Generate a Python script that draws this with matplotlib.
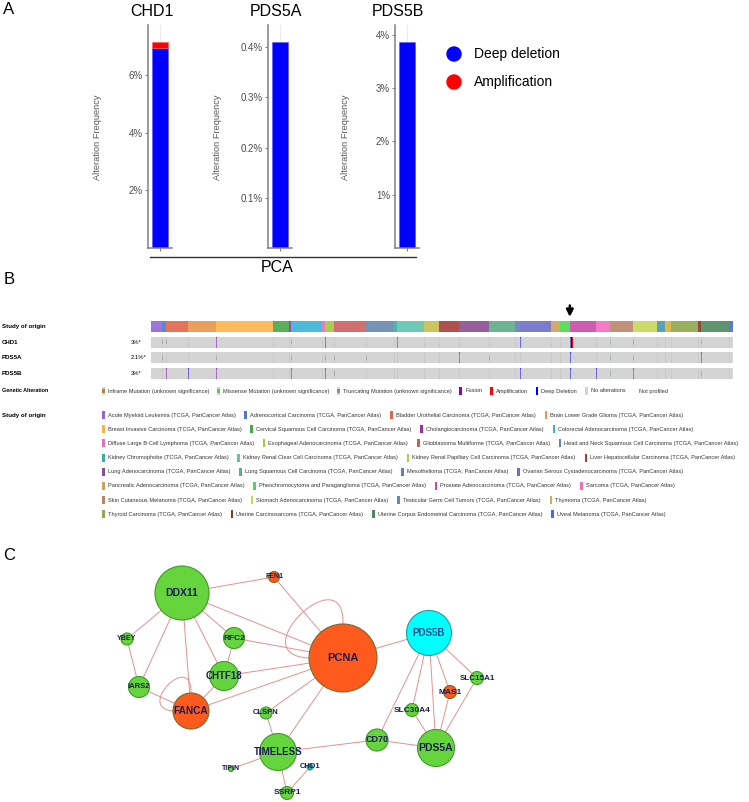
import matplotlib
matplotlib.use('Agg')
import matplotlib.pyplot as plt
from matplotlib.patches import Circle, Rectangle, PathPatch
from matplotlib.path import Path
import numpy as np

plt.rcParams['font.family'] = ['Liberation Sans', 'DejaVu Sans']

# ---------------- panel A data ----------------
bar_genes = ['CHD1', 'PDS5A', 'PDS5B']
deep_del_pct = [6.97, 0.411, 3.87]
amp_pct = [0.21, 0.0, 0.0]
tick_step = [2, 0.1, 1]
cohort = 'PCA'
legend_a = ['Deep deletion', 'Amplification']
legend_a_colors = ['#0000FF', '#FF0000']

# ---------------- panel B data ----------------
study_codes = ['LAML', 'ACC', 'BLCA', 'LGG', 'BRCA', 'CESC', 'CHOL', 'COADREAD',
               'DLBC', 'ESCA', 'GBM', 'HNSC', 'KICH', 'KIRC', 'KIRP', 'LIHC',
               'LUAD', 'LUSC', 'MESO', 'OV', 'PAAD', 'PCPG', 'PRAD', 'SARC',
               'SKCM', 'STAD', 'TGCT', 'THYM', 'THCA', 'UCS', 'UCEC', 'UVM']
study_names = ['Acute Myeloid Leukemia', 'Adrenocortical Carcinoma',
               'Bladder Urothelial Carcinoma', 'Brain Lower Grade Glioma',
               'Breast Invasive Carcinoma', 'Cervical Squamous Cell Carcinoma',
               'Cholangiocarcinoma', 'Colorectal Adenocarcinoma',
               'Diffuse Large B-Cell Lymphoma', 'Esophageal Adenocarcinoma',
               'Glioblastoma Multiforme', 'Head and Neck Squamous Cell Carcinoma',
               'Kidney Chromophobe', 'Kidney Renal Clear Cell Carcinoma',
               'Kidney Renal Papillary Cell Carcinoma', 'Liver Hepatocellular Carcinoma',
               'Lung Adenocarcinoma', 'Lung Squamous Cell Carcinoma', 'Mesothelioma',
               'Ovarian Serous Cystadenocarcinoma', 'Pancreatic Adenocarcinoma',
               'Pheochromocytoma and Paraganglioma', 'Prostate Adenocarcinoma', 'Sarcoma',
               'Skin Cutaneous Melanoma', 'Stomach Adenocarcinoma',
               'Testicular Germ Cell Tumors', 'Thymoma', 'Thyroid Carcinoma',
               'Uterine Carcinosarcoma', 'Uterine Corpus Endometrial Carcinoma',
               'Uveal Melanoma']
study_samples = [200, 92, 411, 514, 1084, 297, 36, 594, 48, 182, 592, 523, 66, 512,
                 283, 372, 566, 487, 87, 585, 184, 179, 494, 255, 448, 440, 149, 123,
                 500, 57, 529, 80]
study_colors = ['#9366D6', '#4A78D0', '#E2654A', '#E8964A', '#FFB347', '#48A648',
                '#9A30A8', '#38B2DA', '#E870B0', '#A2C63E', '#CC5E5E', '#6587AE',
                '#3AAFA0', '#5EC4B2', '#C6C04A', '#A83E3E', '#8C4E8E', '#5EAC88',
                '#6480B8', '#6E6EC8', '#D29E5E', '#48DC48', '#C84CA6', '#F46CC2',
                '#B8846C', '#C6D856', '#4A96AE', '#D6B23E', '#8EA84E', '#8A3A1A',
                '#4E8A5E', '#4A6ED0']
onco_genes = ['CHD1', 'PDS5A', 'PDS5B']
onco_freq = ['3%*', '2.1%*', '3%*']
chd1_alts = [('ACC', 'trunc', 1), ('BLCA', 'trunc', 2), ('BRCA', 'fusion', 2),
             ('COADREAD', 'missense', 4), ('ESCA', 'fusion', 1), ('KIRC', 'amp', 2),
             ('OV', 'del', 3), ('PRAD', 'del', 34), ('PRAD', 'amp', 1),
             ('SKCM', 'missense', 3), ('STAD', 'trunc', 3), ('UCEC', 'missense', 6)]
pds5a_alts = [('ACC', 'trunc', 1), ('BRCA', 'trunc', 2), ('COADREAD', 'missense', 3),
              ('ESCA', 'trunc', 1), ('GBM', 'trunc', 1), ('HNSC', 'trunc', 2),
              ('LUAD', 'amp', 2), ('LUSC', 'trunc', 2), ('PRAD', 'del', 2),
              ('SKCM', 'missense', 3), ('STAD', 'trunc', 2), ('UCEC', 'missense', 5),
              ('UCEC', 'amp', 2)]
pds5b_alts = [('BLCA', 'fusion', 2), ('LGG', 'del', 1), ('BRCA', 'fusion', 3),
              ('COADREAD', 'amp', 3), ('ESCA', 'amp', 2), ('GBM', 'trunc', 1),
              ('OV', 'del', 3), ('PRAD', 'del', 19), ('SARC', 'del', 4),
              ('SKCM', 'missense', 3), ('STAD', 'amp', 3), ('UCEC', 'missense', 6)]
arrow_study = 'PRAD'
alt_keys = ['inframe', 'missense', 'trunc', 'fusion', 'amp', 'del', 'none', 'np']
alt_labels = ['Inframe Mutation (unknown significance)',
              'Missense Mutation (unknown significance)',
              'Truncating Mutation (unknown significance)', 'Fusion', 'Amplification',
              'Deep Deletion', 'No alterations', 'Not profiled']
alt_colors = ['#A68A3C', '#66BF55', '#8A8A8A', '#8B00C9', '#FF0000', '#0000FF',
              '#D4D4D4', '#E6E6E6']

# ---------------- panel C data ----------------
node_names = ['DDX11', 'FEN1', 'PCNA', 'YBEY', 'RFC2', 'IARS2', 'CHTF18', 'FANCA',
              'CLSPN', 'TIMELESS', 'TIPIN', 'CHD1', 'SSRP1', 'CD70', 'PDS5B',
              'SLC15A1', 'MAS1', 'SLC30A4', 'PDS5A']
node_x = [182, 274, 343, 127, 234, 139, 224, 191, 266, 278, 231, 310, 287, 377, 429,
          477, 450, 412, 436]
node_y = [593, 577, 658, 639, 638, 687, 676, 711, 713, 752, 769, 767, 793, 740, 633,
          678, 692, 710, 748]
node_r = [27, 5.5, 34, 6, 10.5, 10.5, 14.5, 18, 6, 18.5, 2.5, 3, 6.5, 11, 22.5, 6.5,
          6.5, 6.5, 18.5]
node_kind = ['g', 'o', 'o', 'g', 'g', 'g', 'g', 'o', 'g', 'g', 'g', 'c', 'g', 'g', 'c',
             'g', 'o', 'g', 'g']
node_fs = [7.5, 5, 8, 5, 6, 5.5, 7, 7.3, 5.5, 7, 5, 5.5, 6, 6.5, 7, 5.8, 6, 6, 7.5]
edges = [('DDX11', 'FEN1'), ('DDX11', 'PCNA'), ('DDX11', 'YBEY'), ('DDX11', 'IARS2'),
         ('DDX11', 'FANCA'), ('DDX11', 'CHTF18'), ('DDX11', 'RFC2'), ('YBEY', 'IARS2'),
         ('IARS2', 'FANCA'), ('RFC2', 'PCNA'), ('RFC2', 'CHTF18'), ('CHTF18', 'PCNA'),
         ('CHTF18', 'FANCA'), ('FANCA', 'PCNA'), ('FEN1', 'PCNA'), ('PCNA', 'CLSPN'),
         ('PCNA', 'TIMELESS'), ('PCNA', 'PDS5B'), ('CLSPN', 'TIMELESS'),
         ('TIMELESS', 'TIPIN'), ('TIMELESS', 'SSRP1'), ('TIMELESS', 'CD70'),
         ('SSRP1', 'CHD1'), ('CD70', 'PDS5A'), ('CD70', 'PDS5B'), ('PDS5B', 'SLC30A4'),
         ('PDS5B', 'PDS5A'), ('PDS5B', 'MAS1'), ('PDS5B', 'SLC15A1'),
         ('SLC30A4', 'PDS5A'), ('MAS1', 'PDS5A'), ('SLC15A1', 'PDS5A')]
self_loops = ['PCNA', 'FANCA']

W, H = 749, 802
fig = plt.figure(figsize=(W / 100, H / 100), dpi=100)
ax0 = fig.add_axes([0, 0, 1, 1])
ax0.set_xlim(0, W)
ax0.set_ylim(H, 0)
ax0.axis('off')
renderer = fig.canvas.get_renderer()


def fig_rect(x0, y0, x1, y1):
    return [x0 / W, 1 - y1 / H, (x1 - x0) / W, (y1 - y0) / H]


for lab, yy in zip(['A', 'B', 'C'], [10, 280, 556]):
    ax0.text(9, yy, lab, fontsize=12, ha='center', va='center')

# ---------------- panel A ----------------
axes_px = [(148, 172), (268, 292), (395, 419)]
title_x = [152, 276, 398]
ylab_x = [98, 218, 345]
for i, g in enumerate(bar_genes):
    ax = fig.add_axes(fig_rect(axes_px[i][0], 25, axes_px[i][1], 248))
    ax.set_facecolor('none')
    ax.bar(0, deep_del_pct[i], width=1, color='#0000FF', edgecolor='#5A5AFF', linewidth=0.4)
    if amp_pct[i] > 0:
        ax.bar(0, amp_pct[i], bottom=deep_del_pct[i], width=1, color='#FF0000',
               edgecolor='#FF5A5A', linewidth=0.4)
    top = (deep_del_pct[i] + amp_pct[i]) * 1.08
    ax.set_ylim(0, top)
    ax.set_xlim(-0.75, 0.75)
    ticks = np.arange(tick_step[i], top, tick_step[i])
    ax.set_yticks(ticks)
    ax.set_yticklabels([f'{t:g}%' for t in ticks])
    ax.set_xticks([0])
    ax.set_xticklabels([''])
    for s in ['top', 'right']:
        ax.spines[s].set_visible(False)
    for s in ['left', 'bottom']:
        ax.spines[s].set_color('#808080')
        ax.spines[s].set_linewidth(1.1)
    ax.tick_params(colors='#808080', length=2.5, width=0.8, labelsize=7,
                   labelcolor='#4D4D4D', pad=1)
    ax.grid(axis='x', color='#EBEBEB', linewidth=0.8)
    ax.set_axisbelow(True)
    ax0.text(title_x[i], 11, g, fontsize=11.5, ha='center', va='center')
    ax0.text(ylab_x[i], 137, 'Alteration Frequency', rotation=90, fontsize=6.7,
             color='#5A5A5A', ha='center', va='center')

ax0.plot([150, 416], [257, 257], color='#333333', lw=1)
ax0.text(277, 268, cohort, fontsize=11.5, ha='center', va='center')
for k, (lab, col) in enumerate(zip(legend_a, legend_a_colors)):
    ax0.add_patch(Circle((454, 54 + 28 * k), 7, color=col))
    ax0.text(474, 54 + 28 * k, lab, fontsize=10, ha='left', va='center')

# ---------------- panel B ----------------
total = sum(study_samples)
starts = np.concatenate([[0], np.cumsum(study_samples)[:-1]])
start_of = dict(zip(study_codes, starts))
color_of = dict(zip(alt_keys, alt_colors))

row_top, pitch, row_h = 320.7, 15.8, 11
axb_top, axb_bot = 300, 381
axb = fig.add_axes(fig_rect(151, axb_top, 733, axb_bot))
axb.set_xlim(0, total)
axb.set_ylim(axb_bot, axb_top)
axb.axis('off')

axb.broken_barh(list(zip(starts, study_samples)), (row_top, row_h),
                facecolors=study_colors, alpha=0.9)
min_w = total / 582 * 1.0
for gi, alts in enumerate([chd1_alts, pds5a_alts, pds5b_alts]):
    y0 = row_top + pitch * (gi + 1)
    axb.broken_barh([(0, total)], (y0, row_h), facecolors='#D4D4D4')
    axb.vlines(starts[1:], y0, y0 + row_h, color='#C2C2C2', lw=0.4)
    offset = {}
    for code, kind, n in alts:
        x = start_of[code] + offset.get(code, 0)
        offset[code] = offset.get(code, 0) + n
        if kind in ('amp', 'del', 'fusion'):
            yb, hh = y0, row_h
        else:
            yb, hh = y0 + row_h * 0.3, row_h * 0.4
        axb.bar(x, hh, width=max(n, min_w), bottom=yb, align='edge',
                color=color_of[kind], linewidth=0)

ax_arrow_x = start_of[arrow_study]
axb.annotate('', xy=(ax_arrow_x, row_top - 1.0), xytext=(ax_arrow_x, row_top - 18),
             arrowprops=dict(arrowstyle='-|>', color='black', lw=1.8, mutation_scale=10))

row_labels = ['Study of origin'] + onco_genes
for k, lab in enumerate(row_labels):
    yc = row_top + pitch * k + row_h / 2
    ax0.text(2, yc, lab, fontsize=4.4, fontweight='bold', ha='left', va='center')
    if k > 0:
        ax0.text(131, yc, onco_freq[k - 1], fontsize=4.2, ha='left', va='center')

mw, mh = 2.6, 8


def flow(items, x0, y, fs, gap):
    x = x0
    for lab, col, kind in items:
        if kind in ('inframe', 'missense', 'trunc'):
            ax0.add_patch(Rectangle((x, y - mh / 2), mw, mh, color='#D4D4D4', lw=0))
            ax0.add_patch(Rectangle((x, y - mh * 0.25), mw, mh * 0.5, color=col, lw=0))
        elif kind == 'np':
            ax0.add_patch(Rectangle((x, y - 0.4), mw, 0.8, color='#BBBBBB', lw=0))
        else:
            ax0.add_patch(Rectangle((x, y - mh / 2), mw, mh, color=col, lw=0))
        t = ax0.text(x + mw + 3, y, lab, fontsize=fs, color='#333333', ha='left',
                     va='center')
        w = t.get_window_extent(renderer=renderer).width
        x = x + mw + 3 + w + gap


ax0.text(2, 391, 'Genetic Alteration', fontsize=3.9, fontweight='bold', ha='left',
         va='center')
flow(list(zip(alt_labels, alt_colors, alt_keys)), 102, 391, 4.05, 8)

ax0.text(2, 415, 'Study of origin', fontsize=4.4, fontweight='bold', ha='left',
         va='center')
for r in range(8):
    items = [(study_names[k] + ' (TCGA, PanCancer Atlas)', study_colors[k], 'study')
             for k in range(4 * r, 4 * r + 4)]
    flow(items, 102, 415 + 14.2 * r, 4.1, 9)

# ---------------- panel C ----------------
idx = {n: i for i, n in enumerate(node_names)}
edge_col = '#E39191'
for a, b in edges:
    i, j = idx[a], idx[b]
    ax0.plot([node_x[i], node_x[j]], [node_y[i], node_y[j]], color=edge_col, lw=0.7,
             zorder=2)
for n in self_loops:
    i = idx[n]
    cx, cy, r = node_x[i], node_y[i], node_r[i]
    if n == 'PCNA':
        pts = [(cx - r, cy), (cx - 103, cy - 3), (cx + 2, cy - 103), (cx, cy - r)]
    else:
        pts = [(cx - r, cy), (cx - 56, cy - 3), (cx + 1, cy - 61), (cx, cy - r)]
    path = Path(pts, [Path.MOVETO, Path.CURVE4, Path.CURVE4, Path.CURVE4])
    ax0.add_patch(PathPatch(path, fc='none', ec=edge_col, lw=0.7, zorder=2))

fills = {'g': '#66D43C', 'o': '#FF5A1E', 'c': '#00FFFF'}
edges_c = {'g': '#3F9A2A', 'o': '#7A6A2A', 'c': '#2A9A9A'}
for i, n in enumerate(node_names):
    k = node_kind[i]
    fc = '#1FA8A8' if n == 'CHD1' else fills[k]
    ax0.add_patch(Circle((node_x[i], node_y[i]), node_r[i], fc=fc, ec=edges_c[k],
                         lw=0.8, zorder=3))
    tc = '#1A4A8A' if n == 'PDS5B' else '#1C1C55'
    ax0.text(node_x[i], node_y[i], n, fontsize=node_fs[i], fontweight='bold', color=tc,
             ha='center', va='center', zorder=4)

fig.savefig('out.png', dpi=100)
